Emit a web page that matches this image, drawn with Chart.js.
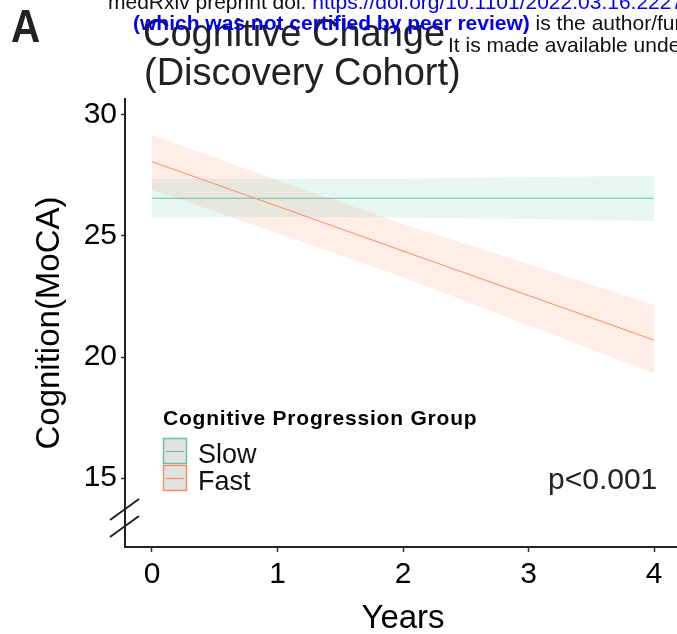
<!DOCTYPE html>
<html lang="en">
<head>
  <meta charset="UTF-8">
  <title>Cognitive Change (Discovery Cohort)</title>
  <script src="https://cdn.jsdelivr.net/npm/chart.js@4.4.0/dist/chart.umd.min.js"></script>
  <style>
    body { margin: 0; background: #fff; }
    canvas { display: block; }
  </style>
</head>
<body>
  <canvas id="chart" width="677" height="634"></canvas>
  <script>
    // data
    const years = [0, 1, 2, 3, 4];
    const slowFit = [26.56, 26.56, 26.56, 26.56, 26.56];
    const slowUpper = [27.36, 27.36, 27.36, 27.44, 27.49];
    const slowLower = [25.76, 25.78, 25.76, 25.70, 25.62];
    const fastFit = [28.07, 26.23, 24.38, 22.54, 20.70];
    const fastUpper = [29.17, 27.30, 25.50, 23.83, 22.15];
    const fastLower = [26.90, 25.12, 23.30, 21.31, 19.33];
    const xTicks = [0, 1, 2, 3, 4];
    const yTicks = [15, 20, 25, 30];
    const groups = ['Slow', 'Fast'];

    const GREEN = '#66c2a5';
    const ORANGE = '#fc8d62';
    const FONT = '"Liberation Sans", Arial, sans-serif';

    const pts = (arr) => years.map((x, i) => ({ x: x, y: arr[i] }));

    // extra drawing: header, title, legend, axis titles, break marks
    const decor = {
      id: 'decor',
      afterDraw(chart) {
        const ctx = chart.ctx;
        ctx.save();
        ctx.textBaseline = 'alphabetic';

        // preprint header
        ctx.font = '21px ' + FONT;
        ctx.fillStyle = '#111';
        ctx.textAlign = 'left';
        ctx.fillText('medRxiv preprint doi: ', 108, 9);
        let w = ctx.measureText('medRxiv preprint doi: ').width;
        ctx.fillStyle = '#0000ee';
        ctx.fillText('https://doi.org/10.1101/2022.03.16.22272462', 108 + w, 9);

        // panel letter
        ctx.fillStyle = '#222';
        ctx.font = 'bold 46px ' + FONT;
        ctx.save();
        ctx.translate(11, 42);
        ctx.scale(0.88, 1);
        ctx.fillText('A', 0, 0);
        ctx.restore();

        // title
        ctx.fillStyle = '#222';
        ctx.font = '38px ' + FONT;
        ctx.fillText('Cognitive Change', 143, 46);
        ctx.fillText('(Discovery Cohort)', 144, 85);

        // header overlapping the title
        ctx.font = 'bold 21px ' + FONT;
        ctx.fillStyle = '#0000ee';
        ctx.fillText('(which was not certified by peer review)', 133, 30);
        w = ctx.measureText('(which was not certified by peer review)').width;
        ctx.font = '21px ' + FONT;
        ctx.fillStyle = '#111';
        ctx.fillText(' is the author/funder, who has granted medRxiv a license', 133 + w, 30);
        ctx.fillText('It is made available under a CC-BY-NC-ND 4.0 International license', 448, 52);

        // axis titles
        ctx.fillStyle = '#000';
        ctx.font = '33px ' + FONT;
        ctx.textAlign = 'center';
        ctx.fillText('Years', 403, 628);
        ctx.save();
        ctx.translate(59, 323);
        ctx.rotate(-Math.PI / 2);
        ctx.fillText('Cognition(MoCA)', 0, 0);
        ctx.restore();

        // axis break marks
        ctx.strokeStyle = '#222';
        ctx.lineWidth = 2;
        ctx.beginPath();
        ctx.moveTo(110, 520); ctx.lineTo(139, 499);
        ctx.moveTo(110, 537); ctx.lineTo(139, 516);
        ctx.stroke();

        // legend
        ctx.textAlign = 'left';
        ctx.font = 'bold 21px ' + FONT;
        ctx.letterSpacing = '0.8px';
        ctx.fillText('Cognitive Progression Group', 163, 425);
        ctx.letterSpacing = '0px';
        const cols = [GREEN, ORANGE];
        groups.forEach((g, i) => {
          const top = 438 + i * 27;
          ctx.fillStyle = '#e2e3e0';
          ctx.fillRect(163, top, 24, 26);
          ctx.strokeStyle = cols[i];
          ctx.lineWidth = 1.5;
          ctx.strokeRect(163.5, top + 0.5, 23, 25);
          ctx.lineWidth = 1.2;
          ctx.beginPath();
          ctx.moveTo(166, top + 13.5); ctx.lineTo(184, top + 13.5);
          ctx.stroke();
          ctx.fillStyle = '#111';
          ctx.font = '27px ' + FONT;
          ctx.fillText(g, 198, top + 25);
        });

        // p value
        ctx.font = '30px ' + FONT;
        ctx.fillStyle = '#222';
        ctx.fillText('p<0.001', 548, 489);

        ctx.restore();
      }
    };

    const ctx = document.getElementById('chart').getContext('2d');
    const myChart = new Chart(ctx, {
      type: 'line',
      data: {
        datasets: [
          { label: 'Fast', data: pts(fastFit), borderColor: ORANGE, borderWidth: 1, pointRadius: 0, fill: false },
          { label: 'Slow', data: pts(slowFit), borderColor: GREEN, borderWidth: 1.2, pointRadius: 0, fill: false },
          { label: 'slowLower', data: pts(slowLower), borderWidth: 0, pointRadius: 0, fill: false },
          { label: 'slowUpper', data: pts(slowUpper), borderWidth: 0, pointRadius: 0, fill: '-1', backgroundColor: 'rgba(102,194,165,0.15)' },
          { label: 'fastLower', data: pts(fastLower), borderWidth: 0, pointRadius: 0, fill: false },
          { label: 'fastUpper', data: pts(fastUpper), borderWidth: 0, pointRadius: 0, fill: '-1', backgroundColor: 'rgba(252,141,98,0.15)' }
        ]
      },
      options: {
        responsive: false,
        animation: false,
        layout: { padding: { top: 99, left: 0, right: 0, bottom: 0 } },
        plugins: {
          legend: { display: false },
          tooltip: { enabled: false }
        },
        scales: {
          x: {
            type: 'linear',
            min: -0.215,
            max: 4.183,
            afterBuildTicks: (s) => { s.ticks = xTicks.map(v => ({ value: v })); },
            afterFit: (s) => { s.height = 87; },
            grid: { display: true, drawOnChartArea: false, drawTicks: true, tickLength: 5, tickWidth: 1.5, color: '#333' },
            border: { display: true, color: '#222', width: 2 },
            ticks: { color: '#000', font: { family: FONT, size: 30 }, padding: 5, maxRotation: 0 }
          },
          y: {
            min: 12.15,
            max: 30.66,
            afterBuildTicks: (s) => { s.ticks = yTicks.map(v => ({ value: v })); },
            afterFit: (s) => { s.width = 125; },
            grid: { display: true, drawOnChartArea: false, drawTicks: true, tickLength: 4, tickWidth: 1.5, color: '#333' },
            border: { display: true, color: '#222', width: 2 },
            ticks: { color: '#000', font: { family: FONT, size: 30 }, padding: 4 }
          }
        }
      },
      plugins: [decor]
    });
  </script>
</body>
</html>
